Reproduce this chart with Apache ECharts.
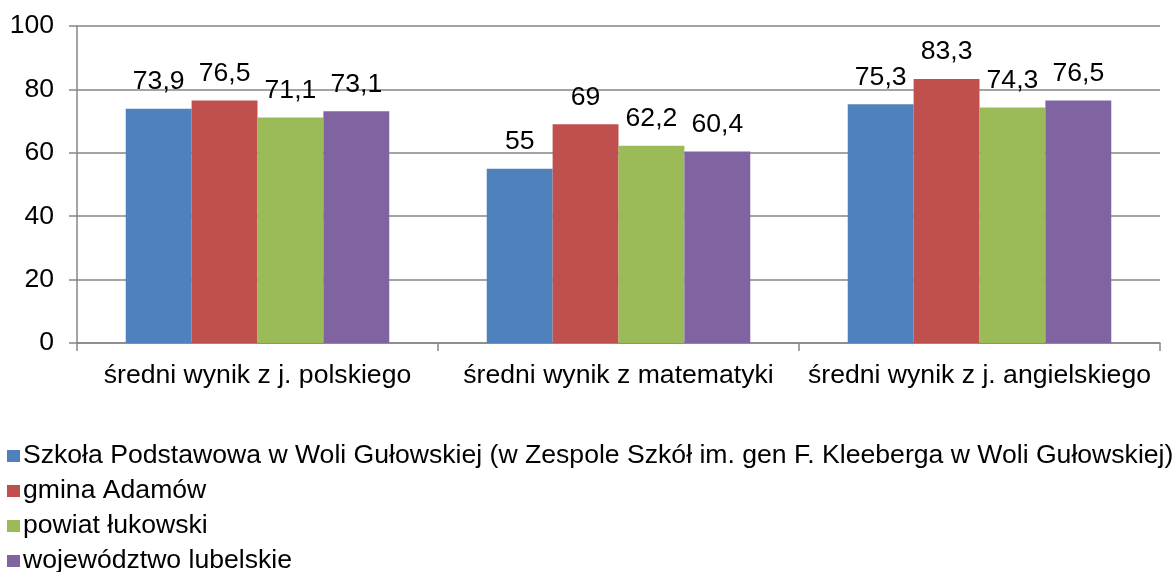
<!DOCTYPE html>
<html>
<head>
<meta charset="utf-8">
<script src="https://cdn.jsdelivr.net/npm/echarts@6/dist/echarts.min.js"></script>
<style>html,body{margin:0;padding:0;background:#fff;}#c{width:1175px;height:572px;}</style>
</head>
<body>
<div id="c"></div>
<script>
const categories = ['średni wynik z j. polskiego', 'średni wynik z matematyki', 'średni wynik z j. angielskiego'];
const seriesNames = [
  'Szkoła Podstawowa w Woli Gułowskiej (w Zespole Szkół im. gen F. Kleeberga w Woli Gułowskiej)',
  'gmina Adamów',
  'powiat łukowski',
  'województwo lubelskie'
];
const szkola = [73.9, 55, 75.3];
const gmina = [76.5, 69, 83.3];
const powiat = [71.1, 62.2, 74.3];
const wojewodztwo = [73.1, 60.4, 76.5];
const colors = ['#4F81BD', '#C0504D', '#9BBB59', '#8064A2'];
const yTicks = [0, 20, 40, 60, 80, 100];

const FONT = 'Liberation Sans, Arial, sans-serif';
const FS = 26.6;
const values = [szkola, gmina, powiat, wojewodztwo];

const chart = echarts.init(document.getElementById('c'));
chart.setOption({
  animation: false,
  textStyle: { fontFamily: FONT },
  grid: { left: 77, right: 15, top: 26, bottom: 229, containLabel: false },
  legend: {
    orient: 'vertical', left: 2, top: 437, height: 200,
    itemWidth: 13, itemHeight: 12, itemGap: 7,
    icon: 'rect',
    textStyle: { fontSize: FS, color: '#000', fontFamily: FONT, lineHeight: 28, padding: [0,0,0,-2] },
    data: seriesNames
  },
  xAxis: {
    type: 'category', data: categories,
    axisLine: { lineStyle: { color: '#868686', width: 1.5 } },
    axisTick: { show: true, length: 8, lineStyle: { color: '#868686', width: 1.5 } },
    axisLabel: { fontSize: FS, color: '#000', margin: 19, fontFamily: FONT, interval: 0 }
  },
  yAxis: {
    type: 'value', min: 0, max: 100, interval: 20,
    axisLine: { show: true, lineStyle: { color: '#868686', width: 1.5 } },
    axisTick: { show: true, length: 8, lineStyle: { color: '#868686', width: 1.5 } },
    splitLine: { lineStyle: { color: '#868686', width: 1.5 } },
    axisLabel: { fontSize: FS, color: '#000', margin: 23, fontFamily: FONT,
      formatter: v => yTicks.includes(v) ? String(v) : '' }
  },
  series: values.map((arr, i) => ({
    name: seriesNames[i], type: 'bar', data: arr,
    barGap: '0%', barCategoryGap: '27%',
    itemStyle: { color: colors[i] },
    label: {
      show: true, position: 'top', distance: 13,
      fontSize: FS, color: '#000', fontFamily: FONT, lineHeight: 28,
      formatter: p => String(p.value).replace('.', ',')
    }
  }))
});
</script>
</body>
</html>
